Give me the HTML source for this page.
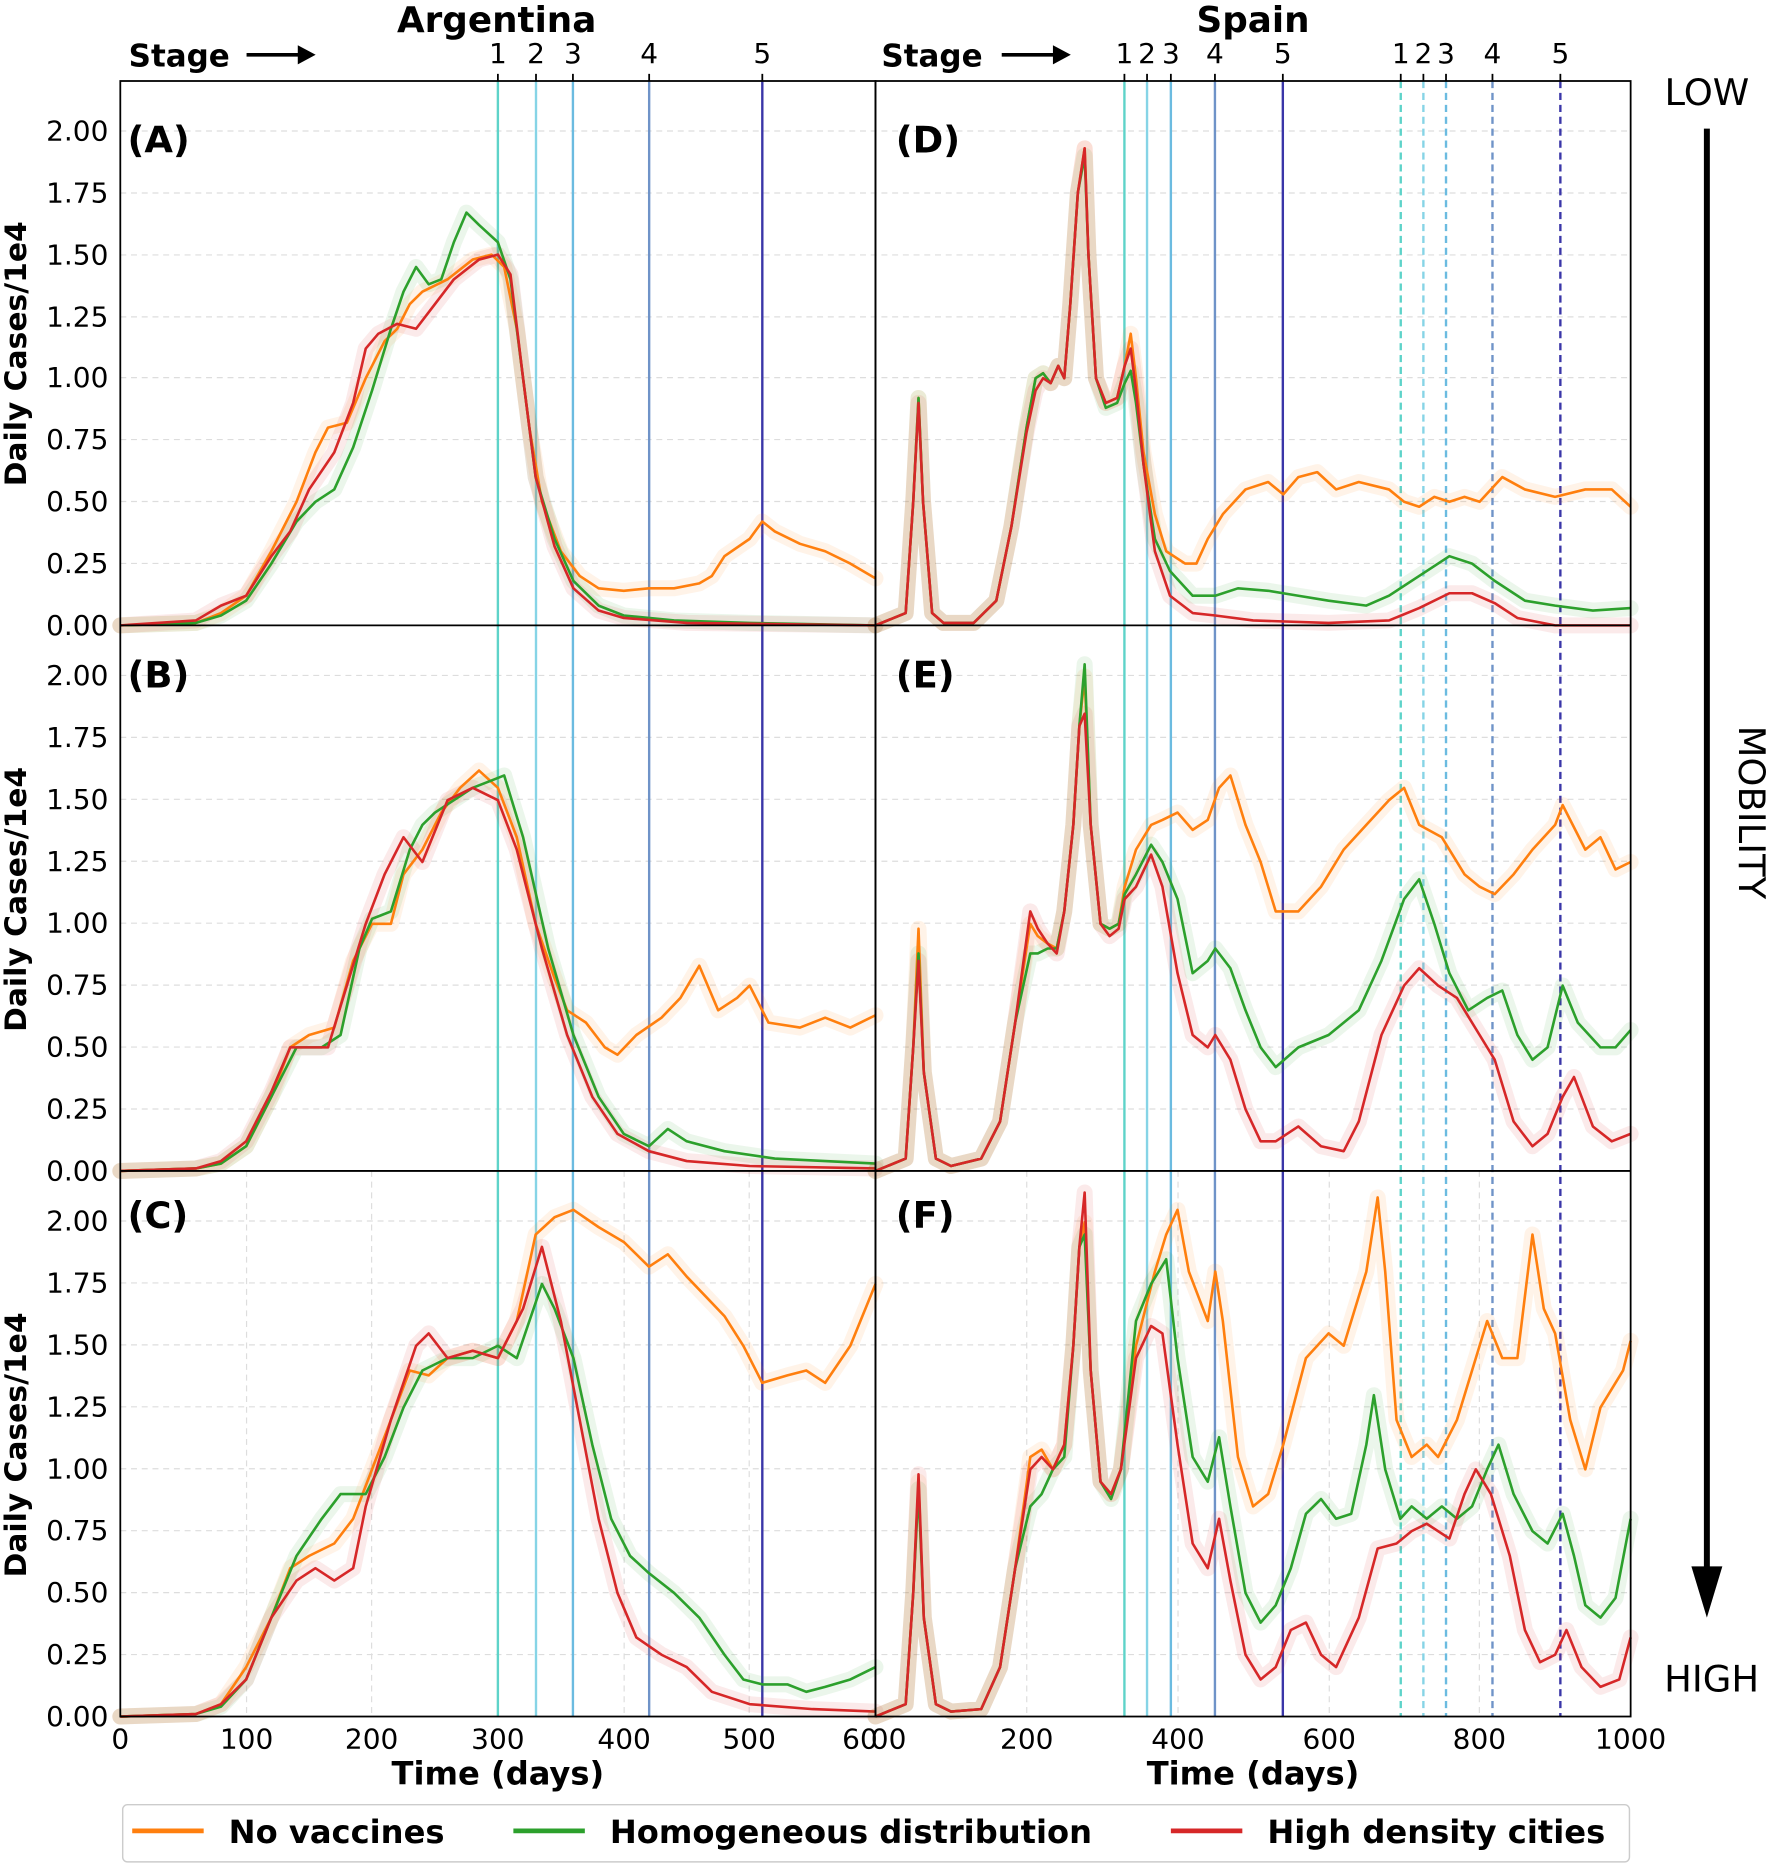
<!DOCTYPE html>
<html><head><meta charset="utf-8"><style>
html,body{margin:0;padding:0;background:#fff}
svg{display:block}
text{font-family:"DejaVu Sans","Liberation Sans",sans-serif;fill:#000}
.t{font-size:23.5px}
.b{font-weight:bold}
.ln{fill:none;stroke-width:2.6;vector-effect:non-scaling-stroke;stroke-linejoin:round}
.bd{fill:none;stroke-width:16;vector-effect:non-scaling-stroke;stroke-linejoin:round;stroke-linecap:round;opacity:0.09}
.o{stroke:#ff7f0e}.g{stroke:#2ca02c}.r{stroke:#d62728}
.grid{stroke:#ddd;stroke-width:1;stroke-dasharray:5,4}
</style></head><body>
<svg width="1770" height="1869" viewBox="0 0 1486 1569" preserveAspectRatio="none" xmlns="http://www.w3.org/2000/svg">
<rect width="1486" height="1569" fill="#fff"/>
<g class="grid">
<line x1="101" x2="1369" y1="110" y2="110"/><line x1="101" x2="1369" y1="162" y2="162"/><line x1="101" x2="1369" y1="214" y2="214"/><line x1="101" x2="1369" y1="266" y2="266"/><line x1="101" x2="1369" y1="317" y2="317"/><line x1="101" x2="1369" y1="369" y2="369"/><line x1="101" x2="1369" y1="421" y2="421"/><line x1="101" x2="1369" y1="473" y2="473"/>
<line x1="101" x2="1369" y1="567" y2="567"/><line x1="101" x2="1369" y1="619" y2="619"/><line x1="101" x2="1369" y1="671" y2="671"/><line x1="101" x2="1369" y1="723" y2="723"/><line x1="101" x2="1369" y1="775" y2="775"/><line x1="101" x2="1369" y1="827" y2="827"/><line x1="101" x2="1369" y1="879" y2="879"/><line x1="101" x2="1369" y1="931" y2="931"/>
<line x1="101" x2="1369" y1="1025" y2="1025"/><line x1="101" x2="1369" y1="1077" y2="1077"/><line x1="101" x2="1369" y1="1129" y2="1129"/><line x1="101" x2="1369" y1="1181" y2="1181"/><line x1="101" x2="1369" y1="1233" y2="1233"/><line x1="101" x2="1369" y1="1285" y2="1285"/><line x1="101" x2="1369" y1="1337" y2="1337"/><line x1="101" x2="1369" y1="1389" y2="1389"/>
<line x1="207" x2="207" y1="983" y2="1441"/><line x1="312" x2="312" y1="983" y2="1441"/><line x1="418" x2="418" y1="983" y2="1441"/><line x1="524" x2="524" y1="983" y2="1441"/><line x1="629" x2="629" y1="983" y2="1441"/>
<line x1="862" x2="862" y1="983" y2="1441"/><line x1="989" x2="989" y1="983" y2="1441"/><line x1="1116" x2="1116" y1="983" y2="1441"/><line x1="1242" x2="1242" y1="983" y2="1441"/>
</g>
<g stroke-width="2">
<line x1="418" x2="418" y1="68" y2="1441" stroke="#5ed3c9"/>
<line x1="450" x2="450" y1="68" y2="1441" stroke="#86d4e6"/>
<line x1="481" x2="481" y1="68" y2="1441" stroke="#6bbbe0"/>
<line x1="545" x2="545" y1="68" y2="1441" stroke="#6f93c8"/>
<line x1="640" x2="640" y1="68" y2="1441" stroke="#3a36a8"/>
<line x1="944" x2="944" y1="68" y2="1441" stroke="#5ed3c9"/>
<line x1="963" x2="963" y1="68" y2="1441" stroke="#86d4e6"/>
<line x1="983" x2="983" y1="68" y2="1441" stroke="#6bbbe0"/>
<line x1="1020" x2="1020" y1="68" y2="1441" stroke="#6f93c8"/>
<line x1="1077" x2="1077" y1="68" y2="1441" stroke="#3a36a8"/>
<g stroke-dasharray="6,4">
<line x1="1176" x2="1176" y1="68" y2="1441" stroke="#5ed3c9"/>
<line x1="1195" x2="1195" y1="68" y2="1441" stroke="#86d4e6"/>
<line x1="1214" x2="1214" y1="68" y2="1441" stroke="#6bbbe0"/>
<line x1="1253" x2="1253" y1="68" y2="1441" stroke="#6f93c8"/>
<line x1="1310" x2="1310" y1="68" y2="1441" stroke="#3a36a8"/>
</g></g>

<g transform="translate(101,525) scale(1.0567,-207.5)">
<polyline class="bd o" points="0,0 60,0.01 80,0.05 100,0.12 120,0.3 140,0.5 155,0.7 165,0.8 180,0.82 195,1.0 210,1.15 220,1.2 230,1.3 240,1.35 260,1.4 280,1.48 295,1.5 305,1.45 315,1.2 325,0.8 335,0.5 350,0.3 365,0.2 380,0.15 400,0.14 420,0.15 440,0.15 460,0.17 470,0.2 480,0.28 500,0.35 510,0.42 520,0.38 540,0.33 560,0.3 580,0.25 600,0.19"/>
<polyline class="bd g" points="0,0 60,0.01 80,0.04 100,0.1 120,0.25 140,0.42 155,0.5 170,0.55 185,0.72 200,0.95 215,1.2 225,1.35 235,1.45 245,1.38 255,1.4 265,1.55 275,1.67 285,1.62 300,1.55 310,1.4 320,1.0 330,0.6 345,0.35 360,0.18 380,0.08 400,0.04 440,0.02 500,0.01 600,0"/>
<polyline class="bd r" points="0,0 60,0.02 80,0.08 100,0.12 120,0.28 135,0.38 150,0.55 170,0.7 185,0.9 195,1.12 205,1.18 220,1.22 235,1.2 250,1.3 265,1.4 285,1.48 300,1.5 310,1.42 320,1.0 330,0.6 345,0.32 360,0.15 380,0.06 400,0.03 450,0.01 600,0"/>
<polyline class="ln o" points="0,0 60,0.01 80,0.05 100,0.12 120,0.3 140,0.5 155,0.7 165,0.8 180,0.82 195,1.0 210,1.15 220,1.2 230,1.3 240,1.35 260,1.4 280,1.48 295,1.5 305,1.45 315,1.2 325,0.8 335,0.5 350,0.3 365,0.2 380,0.15 400,0.14 420,0.15 440,0.15 460,0.17 470,0.2 480,0.28 500,0.35 510,0.42 520,0.38 540,0.33 560,0.3 580,0.25 600,0.19"/>
<polyline class="ln g" points="0,0 60,0.01 80,0.04 100,0.1 120,0.25 140,0.42 155,0.5 170,0.55 185,0.72 200,0.95 215,1.2 225,1.35 235,1.45 245,1.38 255,1.4 265,1.55 275,1.67 285,1.62 300,1.55 310,1.4 320,1.0 330,0.6 345,0.35 360,0.18 380,0.08 400,0.04 440,0.02 500,0.01 600,0"/>
<polyline class="ln r" points="0,0 60,0.02 80,0.08 100,0.12 120,0.28 135,0.38 150,0.55 170,0.7 185,0.9 195,1.12 205,1.18 220,1.22 235,1.2 250,1.3 265,1.4 285,1.48 300,1.5 310,1.42 320,1.0 330,0.6 345,0.32 360,0.15 380,0.06 400,0.03 450,0.01 600,0"/>
</g>
<g transform="translate(101,983) scale(1.0567,-207.5)">
<polyline class="bd o" points="0,0 60,0.01 80,0.03 100,0.1 120,0.3 135,0.5 150,0.55 170,0.58 185,0.85 200,1.0 215,1.0 225,1.2 240,1.3 255,1.45 270,1.55 285,1.62 300,1.55 315,1.35 330,1.0 345,0.78 355,0.65 370,0.6 385,0.5 395,0.47 410,0.55 430,0.62 445,0.7 460,0.83 475,0.65 490,0.7 500,0.75 515,0.6 540,0.58 560,0.62 580,0.58 600,0.63"/>
<polyline class="bd g" points="0,0 60,0.01 80,0.03 100,0.1 120,0.3 140,0.5 160,0.5 175,0.55 190,0.9 200,1.02 215,1.05 230,1.3 240,1.4 250,1.45 265,1.5 280,1.55 295,1.58 305,1.6 320,1.35 340,0.9 360,0.55 380,0.3 400,0.15 420,0.1 435,0.17 450,0.12 480,0.08 520,0.05 600,0.03"/>
<polyline class="bd r" points="0,0 60,0.01 80,0.04 100,0.12 120,0.32 135,0.5 150,0.5 165,0.5 180,0.75 195,1.0 210,1.2 225,1.35 240,1.25 260,1.5 280,1.55 300,1.5 315,1.3 335,0.9 355,0.55 375,0.3 395,0.15 420,0.08 450,0.04 500,0.02 600,0.01"/>
<polyline class="ln o" points="0,0 60,0.01 80,0.03 100,0.1 120,0.3 135,0.5 150,0.55 170,0.58 185,0.85 200,1.0 215,1.0 225,1.2 240,1.3 255,1.45 270,1.55 285,1.62 300,1.55 315,1.35 330,1.0 345,0.78 355,0.65 370,0.6 385,0.5 395,0.47 410,0.55 430,0.62 445,0.7 460,0.83 475,0.65 490,0.7 500,0.75 515,0.6 540,0.58 560,0.62 580,0.58 600,0.63"/>
<polyline class="ln g" points="0,0 60,0.01 80,0.03 100,0.1 120,0.3 140,0.5 160,0.5 175,0.55 190,0.9 200,1.02 215,1.05 230,1.3 240,1.4 250,1.45 265,1.5 280,1.55 295,1.58 305,1.6 320,1.35 340,0.9 360,0.55 380,0.3 400,0.15 420,0.1 435,0.17 450,0.12 480,0.08 520,0.05 600,0.03"/>
<polyline class="ln r" points="0,0 60,0.01 80,0.04 100,0.12 120,0.32 135,0.5 150,0.5 165,0.5 180,0.75 195,1.0 210,1.2 225,1.35 240,1.25 260,1.5 280,1.55 300,1.5 315,1.3 335,0.9 355,0.55 375,0.3 395,0.15 420,0.08 450,0.04 500,0.02 600,0.01"/>
</g>
<g transform="translate(101,1441) scale(1.0567,-207.5)">
<polyline class="bd o" points="0,0 60,0.01 80,0.05 100,0.2 120,0.4 135,0.6 150,0.65 170,0.7 185,0.8 200,1.0 215,1.2 230,1.4 245,1.38 260,1.45 280,1.48 300,1.45 315,1.6 330,1.95 345,2.02 360,2.05 380,1.98 400,1.92 420,1.82 435,1.87 450,1.78 465,1.7 480,1.62 495,1.5 510,1.35 530,1.38 545,1.4 560,1.35 580,1.5 600,1.75"/>
<polyline class="bd g" points="0,0 60,0.01 80,0.04 100,0.15 120,0.4 140,0.65 160,0.8 175,0.9 195,0.9 210,1.05 225,1.25 240,1.4 260,1.45 280,1.45 300,1.5 315,1.45 325,1.6 335,1.75 345,1.65 360,1.45 375,1.1 390,0.8 405,0.65 420,0.58 440,0.5 460,0.4 480,0.25 495,0.15 510,0.13 530,0.13 545,0.1 560,0.12 580,0.15 600,0.2"/>
<polyline class="bd r" points="0,0 60,0.01 80,0.05 100,0.15 120,0.4 140,0.55 155,0.6 170,0.55 185,0.6 195,0.85 215,1.2 235,1.5 245,1.55 260,1.45 280,1.48 300,1.45 320,1.65 335,1.9 350,1.6 365,1.2 380,0.8 395,0.5 410,0.32 430,0.25 450,0.2 470,0.1 500,0.05 550,0.03 600,0.02"/>
<polyline class="ln o" points="0,0 60,0.01 80,0.05 100,0.2 120,0.4 135,0.6 150,0.65 170,0.7 185,0.8 200,1.0 215,1.2 230,1.4 245,1.38 260,1.45 280,1.48 300,1.45 315,1.6 330,1.95 345,2.02 360,2.05 380,1.98 400,1.92 420,1.82 435,1.87 450,1.78 465,1.7 480,1.62 495,1.5 510,1.35 530,1.38 545,1.4 560,1.35 580,1.5 600,1.75"/>
<polyline class="ln g" points="0,0 60,0.01 80,0.04 100,0.15 120,0.4 140,0.65 160,0.8 175,0.9 195,0.9 210,1.05 225,1.25 240,1.4 260,1.45 280,1.45 300,1.5 315,1.45 325,1.6 335,1.75 345,1.65 360,1.45 375,1.1 390,0.8 405,0.65 420,0.58 440,0.5 460,0.4 480,0.25 495,0.15 510,0.13 530,0.13 545,0.1 560,0.12 580,0.15 600,0.2"/>
<polyline class="ln r" points="0,0 60,0.01 80,0.05 100,0.15 120,0.4 140,0.55 155,0.6 170,0.55 185,0.6 195,0.85 215,1.2 235,1.5 245,1.55 260,1.45 280,1.48 300,1.45 320,1.65 335,1.9 350,1.6 365,1.2 380,0.8 395,0.5 410,0.32 430,0.25 450,0.2 470,0.1 500,0.05 550,0.03 600,0.02"/>
</g>
<g transform="translate(735,525) scale(0.634,-207.5)">
<polyline class="bd o" points="0,0 40,0.05 50,0.5 57,0.92 63,0.5 75,0.05 90,0.01 130,0.01 160,0.1 180,0.4 200,0.8 212,1.0 222,1.02 232,0.98 242,1.05 250,1.0 258,1.3 268,1.75 277,1.93 282,1.5 292,1.0 305,0.9 320,0.92 330,1.05 338,1.18 345,1.0 355,0.7 370,0.45 385,0.3 410,0.25 425,0.25 440,0.35 460,0.45 490,0.55 520,0.58 540,0.53 560,0.6 585,0.62 610,0.55 640,0.58 680,0.55 700,0.5 720,0.48 740,0.52 760,0.5 780,0.52 800,0.5 830,0.6 860,0.55 900,0.52 940,0.55 975,0.55 1000,0.48"/>
<polyline class="bd g" points="0,0 40,0.05 50,0.5 57,0.92 63,0.5 75,0.05 90,0.01 130,0.01 160,0.1 180,0.4 200,0.8 212,1.0 222,1.02 232,0.98 242,1.05 250,1.0 258,1.3 268,1.75 277,1.9 282,1.5 292,1.0 305,0.88 320,0.9 330,0.98 338,1.03 345,0.9 355,0.65 370,0.35 390,0.22 420,0.12 450,0.12 480,0.15 520,0.14 560,0.12 600,0.1 650,0.08 680,0.12 720,0.2 760,0.28 790,0.25 820,0.18 860,0.1 900,0.08 950,0.06 1000,0.07"/>
<polyline class="bd r" points="0,0 40,0.05 50,0.5 57,0.9 63,0.5 75,0.05 90,0.01 130,0.01 160,0.1 180,0.4 200,0.78 212,0.95 222,1.0 232,0.98 242,1.05 250,1.0 258,1.3 268,1.75 277,1.93 282,1.5 292,1.0 305,0.9 320,0.92 330,1.05 338,1.12 345,0.95 355,0.65 370,0.3 390,0.12 420,0.05 450,0.04 500,0.02 600,0.01 680,0.02 720,0.07 760,0.13 790,0.13 820,0.09 850,0.03 900,0 1000,0"/>
<polyline class="ln o" points="0,0 40,0.05 50,0.5 57,0.92 63,0.5 75,0.05 90,0.01 130,0.01 160,0.1 180,0.4 200,0.8 212,1.0 222,1.02 232,0.98 242,1.05 250,1.0 258,1.3 268,1.75 277,1.93 282,1.5 292,1.0 305,0.9 320,0.92 330,1.05 338,1.18 345,1.0 355,0.7 370,0.45 385,0.3 410,0.25 425,0.25 440,0.35 460,0.45 490,0.55 520,0.58 540,0.53 560,0.6 585,0.62 610,0.55 640,0.58 680,0.55 700,0.5 720,0.48 740,0.52 760,0.5 780,0.52 800,0.5 830,0.6 860,0.55 900,0.52 940,0.55 975,0.55 1000,0.48"/>
<polyline class="ln g" points="0,0 40,0.05 50,0.5 57,0.92 63,0.5 75,0.05 90,0.01 130,0.01 160,0.1 180,0.4 200,0.8 212,1.0 222,1.02 232,0.98 242,1.05 250,1.0 258,1.3 268,1.75 277,1.9 282,1.5 292,1.0 305,0.88 320,0.9 330,0.98 338,1.03 345,0.9 355,0.65 370,0.35 390,0.22 420,0.12 450,0.12 480,0.15 520,0.14 560,0.12 600,0.1 650,0.08 680,0.12 720,0.2 760,0.28 790,0.25 820,0.18 860,0.1 900,0.08 950,0.06 1000,0.07"/>
<polyline class="ln r" points="0,0 40,0.05 50,0.5 57,0.9 63,0.5 75,0.05 90,0.01 130,0.01 160,0.1 180,0.4 200,0.78 212,0.95 222,1.0 232,0.98 242,1.05 250,1.0 258,1.3 268,1.75 277,1.93 282,1.5 292,1.0 305,0.9 320,0.92 330,1.05 338,1.12 345,0.95 355,0.65 370,0.3 390,0.12 420,0.05 450,0.04 500,0.02 600,0.01 680,0.02 720,0.07 760,0.13 790,0.13 820,0.09 850,0.03 900,0 1000,0"/>
</g>
<g transform="translate(735,983) scale(0.634,-207.5)">
<polyline class="bd o" points="0,0 40,0.05 50,0.5 57,0.98 64,0.4 80,0.05 100,0.02 140,0.05 165,0.2 185,0.6 205,1.0 215,0.95 228,0.92 240,0.9 250,1.05 262,1.4 270,1.8 277,2.0 285,1.4 298,1.0 310,0.98 322,1.0 330,1.15 345,1.3 365,1.4 380,1.42 400,1.45 420,1.38 440,1.42 455,1.55 470,1.6 490,1.4 510,1.25 530,1.05 560,1.05 590,1.15 620,1.3 650,1.4 680,1.5 700,1.55 720,1.4 750,1.35 780,1.2 800,1.15 820,1.12 845,1.2 870,1.3 900,1.4 910,1.48 940,1.3 960,1.35 980,1.22 1000,1.25"/>
<polyline class="bd g" points="0,0 40,0.05 50,0.5 57,0.88 64,0.4 80,0.05 100,0.02 140,0.05 165,0.2 185,0.6 205,0.88 215,0.88 228,0.9 240,0.9 250,1.05 262,1.4 270,1.8 277,2.05 285,1.4 298,1.0 310,0.98 322,1.0 330,1.12 345,1.2 365,1.32 380,1.25 400,1.1 420,0.8 440,0.85 450,0.9 470,0.82 490,0.65 510,0.5 530,0.42 560,0.5 600,0.55 640,0.65 670,0.85 700,1.1 720,1.18 740,1.0 760,0.8 785,0.65 810,0.7 830,0.73 850,0.55 870,0.45 890,0.5 910,0.75 930,0.6 960,0.5 980,0.5 1000,0.57"/>
<polyline class="bd r" points="0,0 40,0.05 50,0.5 57,0.85 64,0.4 80,0.05 100,0.02 140,0.05 165,0.2 185,0.6 205,1.05 215,0.98 228,0.92 240,0.88 250,1.05 262,1.4 270,1.8 277,1.85 285,1.4 298,1.0 310,0.95 322,0.98 330,1.1 345,1.15 365,1.28 380,1.15 400,0.8 420,0.55 440,0.5 450,0.55 470,0.45 490,0.25 510,0.12 530,0.12 560,0.18 590,0.1 620,0.08 640,0.2 670,0.55 700,0.75 720,0.82 745,0.75 770,0.7 800,0.55 820,0.45 845,0.2 870,0.1 890,0.15 910,0.3 925,0.38 950,0.18 975,0.12 1000,0.15"/>
<polyline class="ln o" points="0,0 40,0.05 50,0.5 57,0.98 64,0.4 80,0.05 100,0.02 140,0.05 165,0.2 185,0.6 205,1.0 215,0.95 228,0.92 240,0.9 250,1.05 262,1.4 270,1.8 277,2.0 285,1.4 298,1.0 310,0.98 322,1.0 330,1.15 345,1.3 365,1.4 380,1.42 400,1.45 420,1.38 440,1.42 455,1.55 470,1.6 490,1.4 510,1.25 530,1.05 560,1.05 590,1.15 620,1.3 650,1.4 680,1.5 700,1.55 720,1.4 750,1.35 780,1.2 800,1.15 820,1.12 845,1.2 870,1.3 900,1.4 910,1.48 940,1.3 960,1.35 980,1.22 1000,1.25"/>
<polyline class="ln g" points="0,0 40,0.05 50,0.5 57,0.88 64,0.4 80,0.05 100,0.02 140,0.05 165,0.2 185,0.6 205,0.88 215,0.88 228,0.9 240,0.9 250,1.05 262,1.4 270,1.8 277,2.05 285,1.4 298,1.0 310,0.98 322,1.0 330,1.12 345,1.2 365,1.32 380,1.25 400,1.1 420,0.8 440,0.85 450,0.9 470,0.82 490,0.65 510,0.5 530,0.42 560,0.5 600,0.55 640,0.65 670,0.85 700,1.1 720,1.18 740,1.0 760,0.8 785,0.65 810,0.7 830,0.73 850,0.55 870,0.45 890,0.5 910,0.75 930,0.6 960,0.5 980,0.5 1000,0.57"/>
<polyline class="ln r" points="0,0 40,0.05 50,0.5 57,0.85 64,0.4 80,0.05 100,0.02 140,0.05 165,0.2 185,0.6 205,1.05 215,0.98 228,0.92 240,0.88 250,1.05 262,1.4 270,1.8 277,1.85 285,1.4 298,1.0 310,0.95 322,0.98 330,1.1 345,1.15 365,1.28 380,1.15 400,0.8 420,0.55 440,0.5 450,0.55 470,0.45 490,0.25 510,0.12 530,0.12 560,0.18 590,0.1 620,0.08 640,0.2 670,0.55 700,0.75 720,0.82 745,0.75 770,0.7 800,0.55 820,0.45 845,0.2 870,0.1 890,0.15 910,0.3 925,0.38 950,0.18 975,0.12 1000,0.15"/>
</g>
<g transform="translate(735,1441) scale(0.634,-207.5)">
<polyline class="bd o" points="0,0 40,0.05 50,0.5 57,0.95 64,0.4 80,0.05 100,0.02 140,0.03 165,0.2 185,0.6 205,1.05 220,1.08 235,1.0 250,1.1 262,1.5 270,1.9 277,2.0 285,1.4 298,0.95 312,0.9 325,1.0 345,1.5 370,1.8 385,1.95 400,2.05 415,1.8 440,1.6 450,1.8 460,1.6 480,1.05 500,0.85 520,0.9 540,1.1 570,1.45 600,1.55 620,1.5 650,1.8 665,2.1 675,1.8 690,1.2 710,1.05 730,1.1 745,1.05 770,1.2 790,1.4 810,1.6 830,1.45 850,1.45 870,1.95 885,1.65 900,1.55 920,1.2 940,1.0 960,1.25 990,1.4 1000,1.52"/>
<polyline class="bd g" points="0,0 40,0.05 50,0.5 57,0.92 64,0.4 80,0.05 100,0.02 140,0.03 165,0.2 185,0.6 205,0.85 220,0.9 235,1.0 250,1.05 262,1.5 270,1.9 277,1.95 285,1.4 298,0.95 312,0.88 325,1.0 345,1.6 365,1.75 385,1.85 400,1.45 420,1.05 440,0.95 455,1.13 470,0.85 490,0.5 510,0.38 530,0.45 550,0.6 570,0.82 590,0.88 610,0.8 630,0.82 650,1.1 660,1.3 675,1.0 695,0.8 710,0.85 730,0.8 750,0.85 770,0.8 790,0.85 810,1.0 825,1.1 845,0.9 870,0.75 890,0.7 910,0.82 925,0.65 940,0.45 960,0.4 980,0.48 1000,0.8"/>
<polyline class="bd r" points="0,0 40,0.05 50,0.5 57,0.98 64,0.4 80,0.05 100,0.02 140,0.03 165,0.2 185,0.6 205,1.0 220,1.05 235,1.0 250,1.1 262,1.5 270,1.9 277,2.12 285,1.4 298,0.95 312,0.9 325,1.0 345,1.45 365,1.58 380,1.55 400,1.1 420,0.7 440,0.6 455,0.8 470,0.55 490,0.25 510,0.15 530,0.2 550,0.35 570,0.38 590,0.25 610,0.2 640,0.4 665,0.68 690,0.7 710,0.75 730,0.78 760,0.72 780,0.9 795,1.0 815,0.9 840,0.65 860,0.35 880,0.22 900,0.25 915,0.35 935,0.2 960,0.12 985,0.15 1000,0.32"/>
<polyline class="ln o" points="0,0 40,0.05 50,0.5 57,0.95 64,0.4 80,0.05 100,0.02 140,0.03 165,0.2 185,0.6 205,1.05 220,1.08 235,1.0 250,1.1 262,1.5 270,1.9 277,2.0 285,1.4 298,0.95 312,0.9 325,1.0 345,1.5 370,1.8 385,1.95 400,2.05 415,1.8 440,1.6 450,1.8 460,1.6 480,1.05 500,0.85 520,0.9 540,1.1 570,1.45 600,1.55 620,1.5 650,1.8 665,2.1 675,1.8 690,1.2 710,1.05 730,1.1 745,1.05 770,1.2 790,1.4 810,1.6 830,1.45 850,1.45 870,1.95 885,1.65 900,1.55 920,1.2 940,1.0 960,1.25 990,1.4 1000,1.52"/>
<polyline class="ln g" points="0,0 40,0.05 50,0.5 57,0.92 64,0.4 80,0.05 100,0.02 140,0.03 165,0.2 185,0.6 205,0.85 220,0.9 235,1.0 250,1.05 262,1.5 270,1.9 277,1.95 285,1.4 298,0.95 312,0.88 325,1.0 345,1.6 365,1.75 385,1.85 400,1.45 420,1.05 440,0.95 455,1.13 470,0.85 490,0.5 510,0.38 530,0.45 550,0.6 570,0.82 590,0.88 610,0.8 630,0.82 650,1.1 660,1.3 675,1.0 695,0.8 710,0.85 730,0.8 750,0.85 770,0.8 790,0.85 810,1.0 825,1.1 845,0.9 870,0.75 890,0.7 910,0.82 925,0.65 940,0.45 960,0.4 980,0.48 1000,0.8"/>
<polyline class="ln r" points="0,0 40,0.05 50,0.5 57,0.98 64,0.4 80,0.05 100,0.02 140,0.03 165,0.2 185,0.6 205,1.0 220,1.05 235,1.0 250,1.1 262,1.5 270,1.9 277,2.12 285,1.4 298,0.95 312,0.9 325,1.0 345,1.45 365,1.58 380,1.55 400,1.1 420,0.7 440,0.6 455,0.8 470,0.55 490,0.25 510,0.15 530,0.2 550,0.35 570,0.38 590,0.25 610,0.2 640,0.4 665,0.68 690,0.7 710,0.75 730,0.78 760,0.72 780,0.9 795,1.0 815,0.9 840,0.65 860,0.35 880,0.22 900,0.25 915,0.35 935,0.2 960,0.12 985,0.15 1000,0.32"/>
</g>

<g fill="none" stroke="#000" stroke-width="1.5">
<rect x="101" y="68" width="634" height="1373"/>
<rect x="735" y="68" width="634" height="1373"/>
<line x1="101" x2="1369" y1="525" y2="525"/>
<line x1="101" x2="1369" y1="983" y2="983"/>
</g>
<g stroke="#000" stroke-width="1.5">
<line x1="418" x2="418" y1="62" y2="68"/><line x1="450" x2="450" y1="62" y2="68"/><line x1="481" x2="481" y1="62" y2="68"/><line x1="545" x2="545" y1="62" y2="68"/><line x1="640" x2="640" y1="62" y2="68"/>
<line x1="944" x2="944" y1="62" y2="68"/><line x1="963" x2="963" y1="62" y2="68"/><line x1="983" x2="983" y1="62" y2="68"/><line x1="1020" x2="1020" y1="62" y2="68"/><line x1="1077" x2="1077" y1="62" y2="68"/>
<line x1="1176" x2="1176" y1="62" y2="68"/><line x1="1195" x2="1195" y1="62" y2="68"/><line x1="1214" x2="1214" y1="62" y2="68"/><line x1="1253" x2="1253" y1="62" y2="68"/><line x1="1310" x2="1310" y1="62" y2="68"/>
</g>
<g class="t" text-anchor="middle">
<text x="418" y="53">1</text><text x="450" y="53">2</text><text x="481" y="53">3</text><text x="545" y="53">4</text><text x="640" y="53">5</text>
<text x="944" y="53">1</text><text x="963" y="53">2</text><text x="983" y="53">3</text><text x="1020" y="53">4</text><text x="1077" y="53">5</text>
<text x="1176" y="53">1</text><text x="1195" y="53">2</text><text x="1214" y="53">3</text><text x="1253" y="53">4</text><text x="1310" y="53">5</text>
</g>
<text x="417" y="27" text-anchor="middle" class="b" font-size="30">Argentina</text>
<text x="1052" y="27" text-anchor="middle" class="b" font-size="30">Spain</text>
<text x="108" y="56" class="b" font-size="26">Stage</text>
<text x="740" y="56" class="b" font-size="26">Stage</text>
<g stroke="#000" stroke-width="3"><line x1="207" x2="255" y1="46" y2="46"/><line x1="841" x2="889" y1="46" y2="46"/></g>
<polygon points="250,38 265,46 250,54"/><polygon points="884,38 899,46 884,54"/>

<g class="t" text-anchor="end">
<text x="91" y="118">2.00</text><text x="91" y="170">1.75</text><text x="91" y="222">1.50</text><text x="91" y="274">1.25</text><text x="91" y="325">1.00</text><text x="91" y="377">0.75</text><text x="91" y="429">0.50</text><text x="91" y="481">0.25</text><text x="91" y="533">0.00</text>
<text x="91" y="575">2.00</text><text x="91" y="627">1.75</text><text x="91" y="679">1.50</text><text x="91" y="731">1.25</text><text x="91" y="783">1.00</text><text x="91" y="835">0.75</text><text x="91" y="887">0.50</text><text x="91" y="939">0.25</text><text x="91" y="991">0.00</text>
<text x="91" y="1033">2.00</text><text x="91" y="1085">1.75</text><text x="91" y="1137">1.50</text><text x="91" y="1189">1.25</text><text x="91" y="1241">1.00</text><text x="91" y="1293">0.75</text><text x="91" y="1345">0.50</text><text x="91" y="1397">0.25</text><text x="91" y="1449">0.00</text>
</g>
<g class="b" font-size="25" text-anchor="middle">
<text transform="translate(22,297) rotate(-90)">Daily Cases/1e4</text>
<text transform="translate(22,755) rotate(-90)">Daily Cases/1e4</text>
<text transform="translate(22,1213) rotate(-90)">Daily Cases/1e4</text>
</g>
<g class="b" font-size="31">
<text x="107" y="128">(A)</text><text x="107" y="577">(B)</text><text x="107" y="1031">(C)</text>
<text x="752" y="128">(D)</text><text x="752" y="577">(E)</text><text x="752" y="1031">(F)</text>
</g>
<g class="t" text-anchor="middle">
<text x="101" y="1468">0</text><text x="207" y="1468">100</text><text x="312" y="1468">200</text><text x="418" y="1468">300</text><text x="524" y="1468">400</text><text x="629" y="1468">500</text><text x="722" y="1468">60</text>
<text x="746" y="1468">00</text><text x="862" y="1468">200</text><text x="989" y="1468">400</text><text x="1116" y="1468">600</text><text x="1242" y="1468">800</text><text x="1369" y="1468">1000</text>
</g>
<text x="418" y="1498" text-anchor="middle" class="b" font-size="27">Time (days)</text>
<text x="1052" y="1498" text-anchor="middle" class="b" font-size="27">Time (days)</text>
<text x="1433" y="88" text-anchor="middle" font-size="31">LOW</text>
<text x="1437" y="1420" text-anchor="middle" font-size="31">HIGH</text>
<line x1="1433" x2="1433" y1="108" y2="1320" stroke="#000" stroke-width="5"/>
<polygon points="1420,1315 1446,1315 1433,1358"/>
<text transform="translate(1460,682) rotate(90)" text-anchor="middle" font-size="31">MOBILITY</text>
<rect x="103" y="1515" width="1265" height="48" rx="4" fill="#fff" stroke="#ccc" stroke-width="1.2"/>
<g stroke-width="4"><line x1="111" x2="171" y1="1537" y2="1537" stroke="#ff7f0e"/><line x1="431" x2="491" y1="1537" y2="1537" stroke="#2ca02c"/><line x1="983" x2="1043" y1="1537" y2="1537" stroke="#d62728"/></g>
<g class="b" font-size="27"><text x="192" y="1547">No vaccines</text><text x="512" y="1547">Homogeneous distribution</text><text x="1064" y="1547">High density cities</text></g>
</svg>
</body></html>
